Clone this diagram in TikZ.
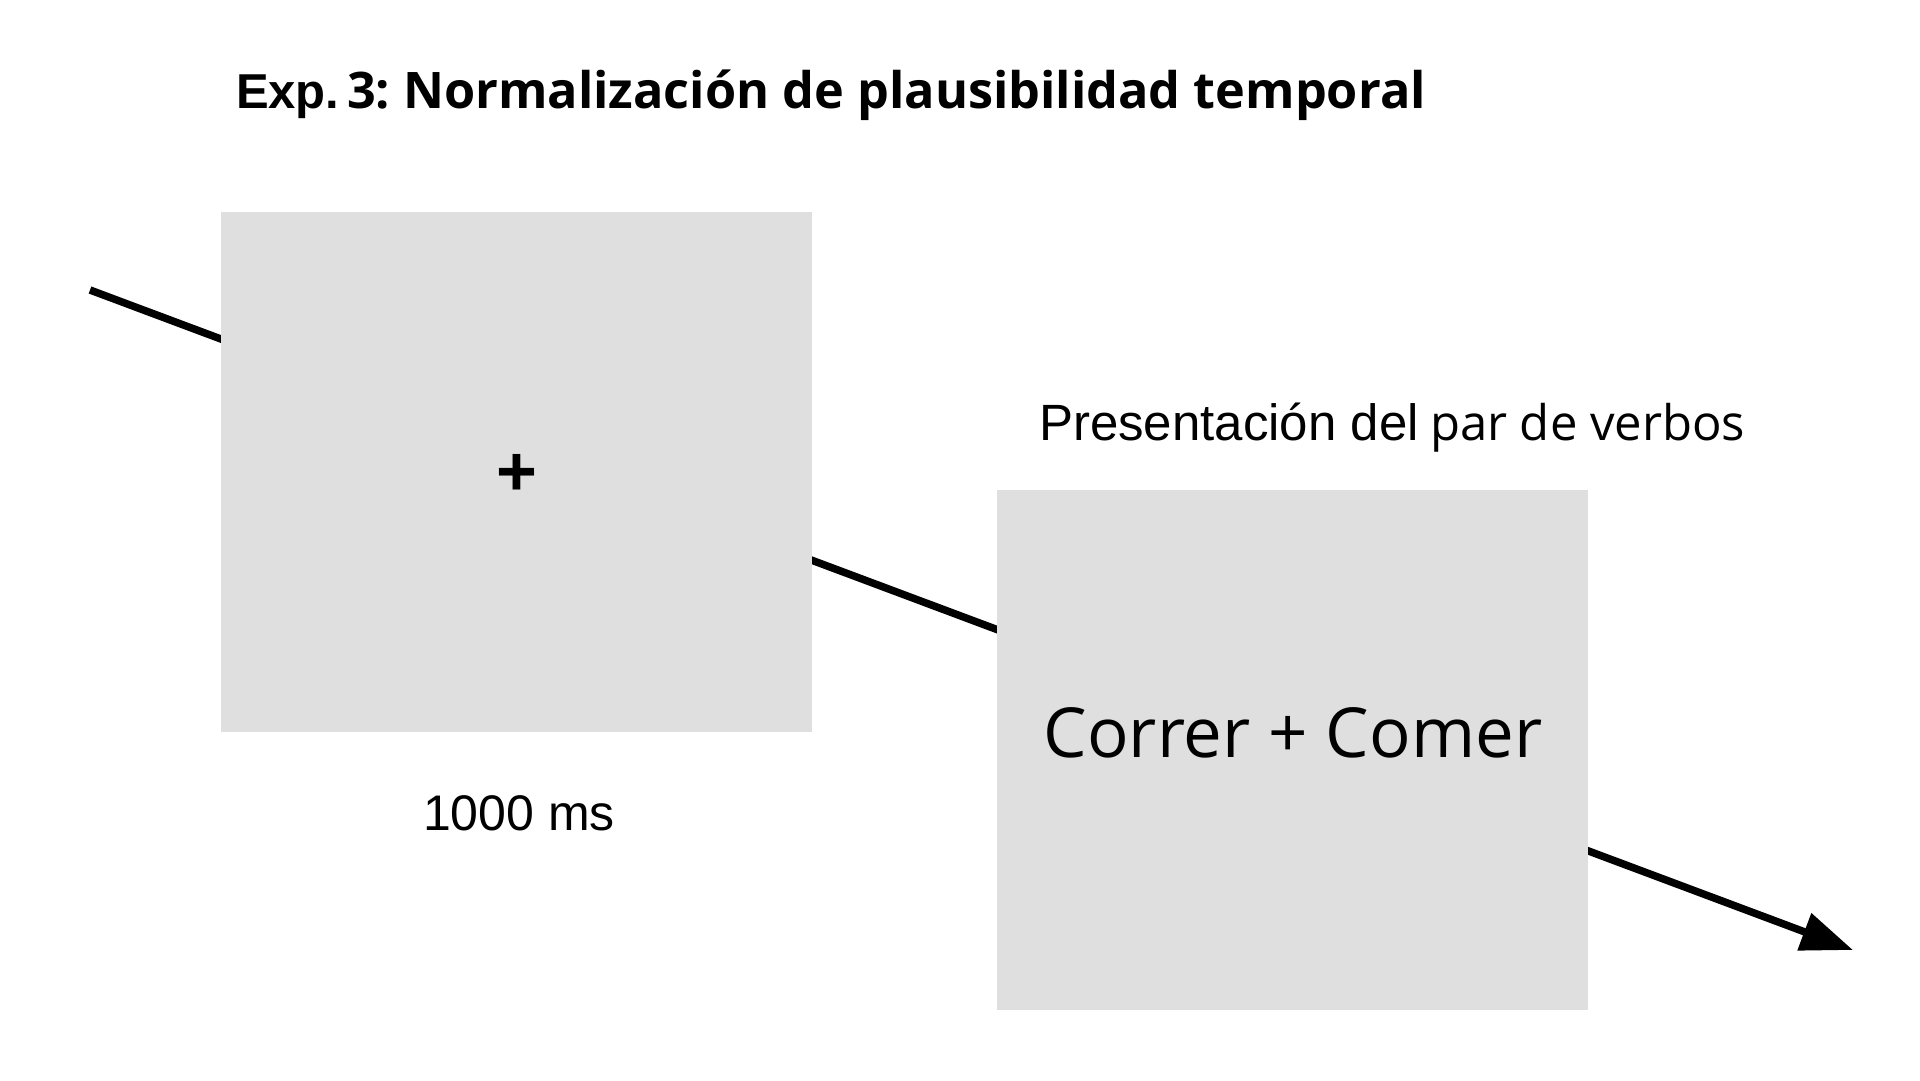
\documentclass[tikz,border=0pt]{standalone}
\usepackage{fontspec}
\usetikzlibrary{arrows.meta}
\newfontfamily\osans{Open Sans}
\newfontfamily\arialf{Liberation Sans}
\definecolor{boxgray}{HTML}{DFDFDF}
\begin{document}
\begin{tikzpicture}[x=1pt,y=-1pt,
  screen/.style={fill=boxgray,draw=none,minimum width=591pt,minimum height=520pt,inner sep=0pt,outer sep=0pt},
  timeline/.style={line width=7.5pt,-{Triangle[length=52pt,width=38pt]}},
  txt/.style={inner sep=0pt,outer sep=0pt,text=black}]
\useasboundingbox[fill=white] (0,0) rectangle (1920,1080);
% timeline arrow (behind the screens)
\coordinate (tstart) at (90,290);
\coordinate (tend) at (1853,950);
\draw[timeline] (tstart) -- (tend);
% screens
\node[screen,anchor=north west] (b1) at (221,212) {};
\node[screen,anchor=north west] (b2) at (997,490) {};
% contents
\node[txt] (fix) at ([yshift=-3pt]b1.center) {\arialf\bfseries\fontsize{70}{70}\selectfont +};
\node[txt,anchor=base] (verbs) at (1293,757) {\osans\fontsize{69}{69}\selectfont Correr + Comer};
% labels
\node[txt,anchor=base] (dur) at (519,830) {\arialf\fontsize{50}{50}\selectfont 1000 ms};
\node[txt,anchor=base west] (pres1) at (1039,440) {\arialf\fontsize{51}{51}\selectfont Presentación del};
\node[txt,anchor=base west] (pres2) at (1430,440) {\osans\fontsize{49}{49}\selectfont par de verbos};
% title
\node[txt,anchor=base west] (t1) at (236,108) {\arialf\bfseries\fontsize{49}{49}\selectfont Exp.};
\node[txt,anchor=base west] (t2) at (347,108) {\osans\bfseries\fontsize{50.4}{50.4}\selectfont 3:\hspace{-4.5pt} Normalización de plausibilidad temporal};
\end{tikzpicture}
\end{document}
